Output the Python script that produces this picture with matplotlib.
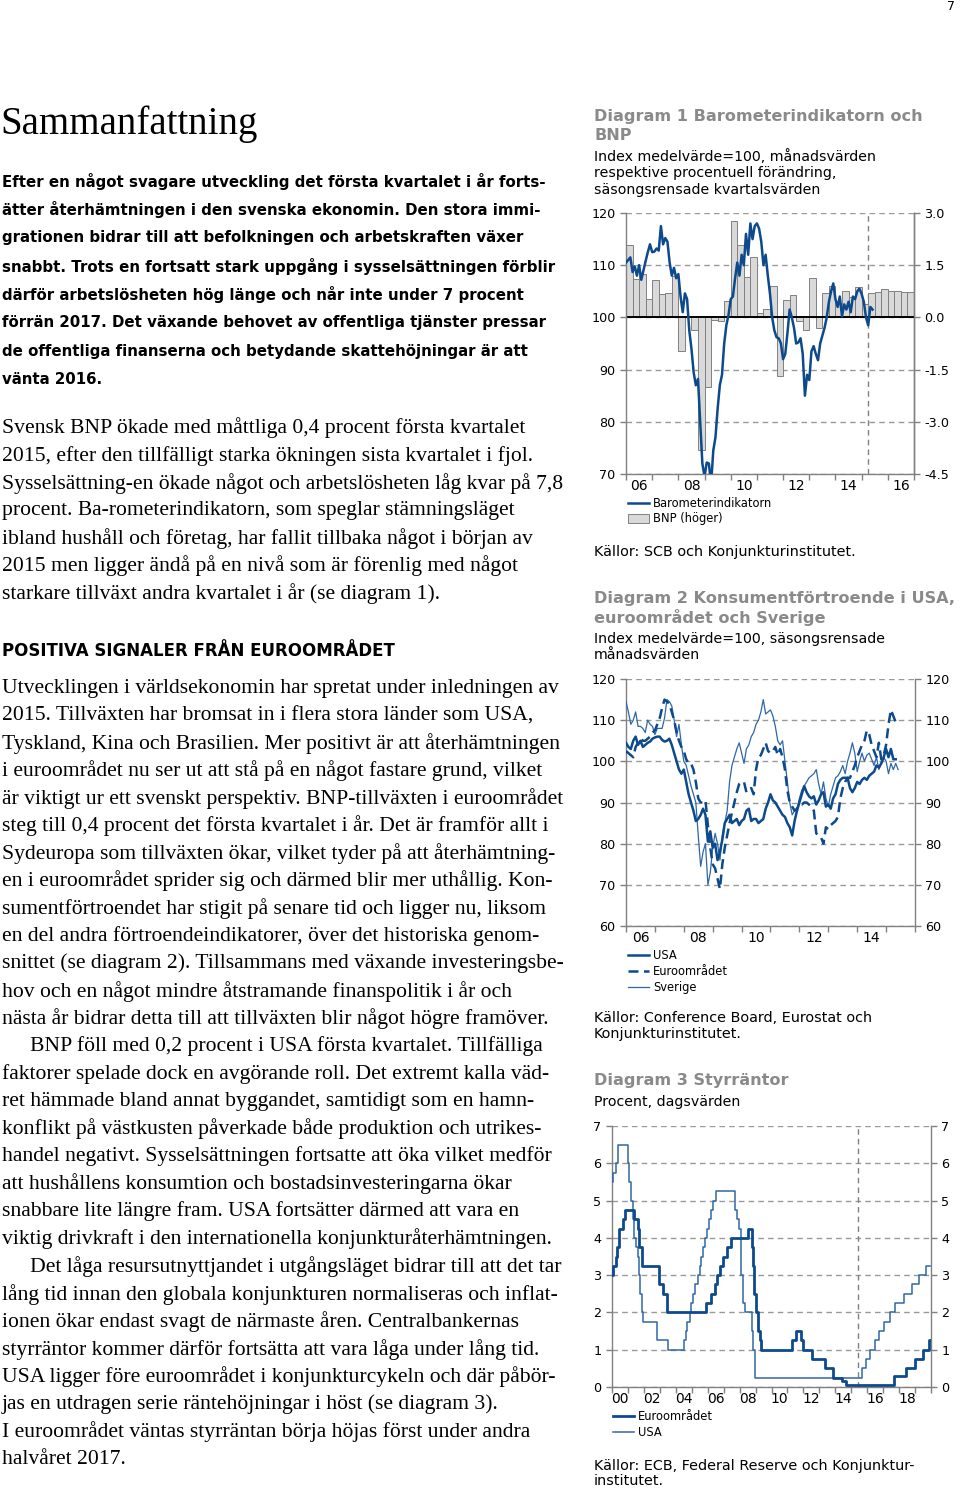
import numpy as np
import matplotlib
matplotlib.use("Agg")
import matplotlib.pyplot as plt
from matplotlib.lines import Line2D
from matplotlib.patches import Patch

W, H = 960, 1489

# ---------------- data ----------------
# Diagram 1: Barometerindikatorn (monthly, from Jan 2006) and BNP (quarterly, 2006Q1-2016Q4)
barometer = [110.5, 111.0, 111.5, 108.7, 109.8, 108.0, 110.0, 107.2, 109.0, 110.8, 112.5, 114.0,
             112.5, 112.6, 113.2, 112.8, 117.5, 114.0, 115.2, 114.5, 110.5, 108.0, 109.5, 107.5,
             108.3, 104.0, 101.0, 104.6, 103.5, 97.5, 94.0, 89.5, 87.0, 88.2, 80.0, 72.0,
             69.5, 72.2, 72.0, 68.0, 74.5, 77.0, 82.5, 87.0, 89.0, 95.0, 98.5, 100.5,
             103.5, 104.0, 107.5, 110.5, 108.0, 112.0, 110.0, 116.0, 112.0, 118.0, 115.0, 117.5,
             118.0, 117.0, 114.5, 110.0, 112.0, 108.0, 104.5, 100.0, 97.5, 96.2, 96.0, 95.0,
             92.0, 93.0, 97.0, 101.5, 100.0, 98.0, 95.0, 95.2, 96.0, 93.0, 85.0, 89.0,
             88.0, 93.5, 94.5, 93.0, 91.8, 95.0, 96.5, 98.0, 100.0, 103.0, 105.0, 106.5,
             103.5, 102.0, 104.0, 100.2, 102.5, 101.5, 103.0, 101.0, 104.0, 103.5, 105.0, 105.5,
             104.5, 103.0, 100.0, 98.5, 102.0, 101.5]
bnp = [2.08, 1.11, 1.26, 0.52, 1.07, 0.66, 0.69, 1.19,
       -0.97, 0.03, -0.36, -3.81, -2.00, -0.08, -0.11, 0.46,
       2.77, 2.08, 1.17, 1.75, 0.13, 0.25, 0.91, -1.67,
       0.51, 0.65, -0.11, -0.36, 1.12, -0.30, 0.69, 0.90,
       0.40, 0.75, 0.59, 0.86, 0.38, 0.69, 0.74, 0.82,
       0.77, 0.75, 0.72, 0.72]

# Diagram 2: consumer confidence, monthly from Jan 2006
usa = [104.5, 103.5, 103.0, 105.0, 106.0, 104.0, 105.0, 103.5, 104.0, 104.5, 104.8, 105.5,
       105.8, 106.0, 106.0, 105.2, 104.8, 105.0, 105.5, 104.0, 102.0, 100.0, 98.0, 97.0,
       98.0, 95.0, 92.0, 90.0, 88.0, 85.5, 86.0, 87.0, 88.5, 87.0, 80.5, 83.0,
       79.0, 80.0, 76.0, 78.0, 81.0, 85.0, 86.0, 87.0, 85.0, 85.5, 86.0, 84.5,
       85.5, 86.0, 88.0, 88.5, 85.5, 86.0, 86.0, 85.0, 85.5, 86.0, 88.5, 90.0,
       92.0, 90.5, 90.0, 89.0, 88.0, 87.0, 86.5, 85.0, 84.0, 82.0, 85.5, 88.0,
       90.0, 92.0, 94.0, 92.5, 91.5, 91.0, 91.5, 89.5, 90.5, 92.0, 92.5, 89.0,
       89.5, 88.5, 91.0, 92.0, 94.5, 95.5, 96.0, 96.0, 96.0, 93.5, 92.5, 93.5,
       95.0, 94.5, 95.5, 96.0, 95.5, 96.5, 97.0, 97.5, 99.0, 98.5, 99.5, 101.0,
       103.0, 101.0, 103.0, 100.5, 100.5]
euro = [102.5, 102.0, 101.5, 101.0, 103.5, 104.5, 105.5, 105.0, 105.0, 105.5, 106.0, 107.0,
        107.5, 109.0, 110.5, 113.0, 115.0, 114.5, 114.0, 112.0, 110.0, 107.0, 105.0, 103.5,
        102.5, 100.5, 99.5, 99.5, 98.0, 95.0, 91.0, 90.0, 90.0, 90.5, 84.5, 79.0,
        75.0, 74.0, 71.5, 69.0, 75.0, 79.0, 82.0, 85.0, 87.5, 90.0, 92.5, 94.5,
        95.0, 95.0, 92.5, 93.0, 93.5, 92.0, 98.0, 101.0, 101.5, 103.0, 104.5, 102.5,
        102.0, 102.5, 103.5, 101.5, 103.0, 101.0, 98.0, 93.0, 90.0, 89.0, 88.0, 88.5,
        89.5, 89.5, 90.0, 90.0, 89.5, 89.0, 88.0, 82.5, 82.0, 81.5, 80.0, 84.0,
        83.5, 84.5, 85.0, 85.5, 86.5, 91.0, 93.5, 95.0, 96.0, 96.0, 97.5, 99.0,
        101.0, 102.5, 104.0, 105.0, 107.5, 106.5, 104.0, 102.5, 101.0, 104.5, 100.5, 101.5,
        104.0, 109.0, 112.5, 111.0, 109.5]
sverige = [114.5, 112.0, 109.0, 110.0, 112.0, 108.5, 108.5, 108.0, 107.0, 110.0, 109.0, 108.5,
           106.5, 108.0, 108.0, 108.0, 110.5, 115.0, 114.5, 113.5, 110.0, 106.0, 109.0, 104.0,
           100.0, 99.0, 96.5, 94.0, 92.0, 90.0, 82.0, 74.5, 78.0, 80.0, 70.0, 73.0,
           79.0, 82.5, 80.0, 76.0, 82.0, 85.0, 88.0, 95.0, 99.0, 101.0, 103.0, 104.5,
           102.0, 99.5, 103.0, 104.0, 106.0, 107.0, 109.0, 110.0, 112.0, 115.0, 111.5, 112.0,
           112.5, 111.0, 108.5, 105.0, 104.0, 105.0, 100.0, 95.0, 90.0, 87.0, 88.0, 88.5,
           91.0, 93.0, 94.0, 95.0, 96.0, 96.5, 97.0, 98.0, 94.5, 92.0, 95.0, 91.0,
           89.0, 92.0, 94.0, 96.0, 96.5, 97.5, 99.0, 97.0, 100.0, 102.0, 104.5, 102.0,
           97.5, 100.0, 102.0, 100.0, 101.5, 102.0, 100.5, 99.0, 101.0, 98.0, 99.5, 101.0,
           100.0, 97.0, 99.5, 98.0, 99.5, 98.0]

# Diagram 3: policy rates (change dates as decimal years, level from that date)
euro_dates = [2000.0, 2000.09, 2000.25, 2000.33, 2000.45, 2000.67, 2000.8, 2001.37, 2001.66,
              2001.72, 2001.87, 2002.93, 2003.18, 2003.43, 2005.92, 2006.18, 2006.45, 2006.6,
              2006.77, 2006.94, 2007.2, 2007.45, 2008.52, 2008.77, 2008.86, 2008.93, 2009.05,
              2009.18, 2009.26, 2009.36, 2011.28, 2011.52, 2011.85, 2011.95, 2012.52, 2013.35,
              2013.85, 2014.43, 2014.7, 2017.7, 2018.45, 2019.0, 2019.5, 2019.9, 2020.0]
euro_rate = [3.0, 3.25, 3.5, 3.75, 4.25, 4.5, 4.75, 4.5, 4.25,
             3.75, 3.25, 2.75, 2.5, 2.0, 2.25, 2.5, 2.75, 3.0,
             3.25, 3.5, 3.75, 4.0, 4.25, 3.75, 3.25, 2.5, 2.0,
             1.5, 1.25, 1.0, 1.25, 1.5, 1.25, 1.0, 0.75, 0.5,
             0.25, 0.15, 0.05, 0.3, 0.5, 0.75, 1.0, 1.25, 1.25]
usa_dates = [2000.0, 2000.09, 2000.22, 2000.38, 2001.0, 2001.08, 2001.22, 2001.3, 2001.38,
             2001.48, 2001.64, 2001.7, 2001.78, 2001.86, 2001.95, 2002.85, 2003.48, 2004.5,
             2004.61, 2004.72, 2004.86, 2004.95, 2005.09, 2005.22, 2005.38, 2005.5, 2005.61,
             2005.72, 2005.86, 2005.95, 2006.08, 2006.22, 2006.36, 2006.49, 2007.72, 2007.83,
             2007.95, 2008.06, 2008.08, 2008.22, 2008.33, 2008.77, 2008.83, 2008.96, 2015.67,
             2015.95, 2016.2, 2016.5, 2016.72, 2017.03, 2017.45, 2017.76, 2018.29, 2018.8,
             2019.23, 2019.7, 2019.95]
usa_rate = [5.5, 5.75, 6.0, 6.5, 6.0, 5.5, 5.0, 4.5, 4.0,
            3.75, 3.5, 3.0, 2.5, 2.0, 1.75, 1.25, 1.0, 1.25,
            1.5, 1.75, 2.0, 2.25, 2.5, 2.75, 3.0, 3.25, 3.5,
            3.75, 4.0, 4.25, 4.5, 4.75, 5.0, 5.25, 4.75, 4.5,
            4.25, 3.5, 3.0, 2.25, 2.0, 1.5, 1.0, 0.25, 0.5,
            0.75, 1.0, 1.25, 1.5, 1.75, 2.0, 2.25, 2.5, 2.75,
            3.0, 3.25, 3.25]

# ---------------- text ----------------
lead = ["Efter en något svagare utveckling det första kvartalet i år forts-",
        "ätter återhämtningen i den svenska ekonomin. Den stora immi-",
        "grationen bidrar till att befolkningen och arbetskraften växer",
        "snabbt. Trots en fortsatt stark uppgång i sysselsättningen förblir",
        "därför arbetslösheten hög länge och når inte under 7 procent",
        "förrän 2017. Det växande behovet av offentliga tjänster pressar",
        "de offentliga finanserna och betydande skattehöjningar är att",
        "vänta 2016."]
body1 = ["Svensk BNP ökade med måttliga 0,4 procent första kvartalet",
         "2015, efter den tillfälligt starka ökningen sista kvartalet i fjol.",
         "Sysselsättning-en ökade något och arbetslösheten låg kvar på 7,8",
         "procent. Ba-rometerindikatorn, som speglar stämningsläget",
         "ibland hushåll och företag, har fallit tillbaka något i början av",
         "2015 men ligger ändå på en nivå som är förenlig med något",
         "starkare tillväxt andra kvartalet i år (se diagram 1)."]
body2 = ["Utvecklingen i världsekonomin har spretat under inledningen av",
         "2015. Tillväxten har bromsat in i flera stora länder som USA,",
         "Tyskland, Kina och Brasilien. Mer positivt är att återhämtningen",
         "i euroområdet nu ser ut att stå på en något fastare grund, vilket",
         "är viktigt ur ett svenskt perspektiv. BNP-tillväxten i euroområdet",
         "steg till 0,4 procent det första kvartalet i år. Det är framför allt i",
         "Sydeuropa som tillväxten ökar, vilket tyder på att återhämtning-",
         "en i euroområdet sprider sig och därmed blir mer uthållig. Kon-",
         "sumentförtroendet har stigit på senare tid och ligger nu, liksom",
         "en del andra förtroendeindikatorer, över det historiska genom-",
         "snittet (se diagram 2). Tillsammans med växande investeringsbe-",
         "hov och en något mindre åtstramande finanspolitik i år och",
         "nästa år bidrar detta till att tillväxten blir något högre framöver.",
         "\tBNP föll med 0,2 procent i USA första kvartalet. Tillfälliga",
         "faktorer spelade dock en avgörande roll. Det extremt kalla väd-",
         "ret hämmade bland annat byggandet, samtidigt som en hamn-",
         "konflikt på västkusten påverkade både produktion och utrikes-",
         "handel negativt. Sysselsättningen fortsatte att öka vilket medför",
         "att hushållens konsumtion och bostadsinvesteringarna ökar",
         "snabbare lite längre fram. USA fortsätter därmed att vara en",
         "viktig drivkraft i den internationella konjunkturåterhämtningen.",
         "\tDet låga resursutnyttjandet i utgångsläget bidrar till att det tar",
         "lång tid innan den globala konjunkturen normaliseras och inflat-",
         "ionen ökar endast svagt de närmaste åren. Centralbankernas",
         "styrräntor kommer därför fortsätta att vara låga under lång tid.",
         "USA ligger före euroområdet i konjunkturcykeln och där påbör-",
         "jas en utdragen serie räntehöjningar i höst (se diagram 3).",
         "I euroområdet väntas styrräntan börja höjas först under andra",
         "halvåret 2017."]

BLUE = "#0d4a8c"
BLUE2 = "#2f67a6"
GREY = "#8a8a8a"
AX = "#808080"

TITLE_FS = 11.6
SUB_FS = 10.2
SRC_FS = 10.4
LEG_FS = 8.3

fig = plt.figure(figsize=(W / 100, H / 100), dpi=100)
fig.patch.set_facecolor("white")


def ftext(x, y, s, **kw):
    kw.setdefault("va", "center")
    fig.text(x / W, 1 - y / H, s, **kw)


def px_axes(x0, y0, x1, y1):
    return fig.add_axes([x0 / W, 1 - y1 / H, (x1 - x0) / W, (y1 - y0) / H])


def style(ax):
    for side in ["left", "right", "bottom"]:
        ax.spines[side].set_color(AX)
        ax.spines[side].set_linewidth(1.0)
    ax.spines["top"].set_visible(False)
    ax.tick_params(axis="both", colors=AX, labelcolor="black", labelsize=9.2,
                   length=4, width=1.0, direction="out")


# ---------------- left column ----------------
ftext(0, 124, "Sammanfattning", family="Liberation Serif", fontsize=28)
for i, line in enumerate(lead):
    ftext(2, 181 + i * 28.4, line, fontsize=10.8, fontweight="bold")

serif = dict(family="Liberation Serif", fontsize=15.6)
for i, line in enumerate(body1):
    ftext(2, 428 + i * 27.6, line, **serif)
ftext(2, 651, "POSITIVA SIGNALER FRÅN EUROOMRÅDET", fontsize=12, fontweight="bold")
for i, line in enumerate(body2):
    x = 2
    if line.startswith("\t"):
        line = line[1:]
        x = 30
    ftext(x, 688 + i * 27.55, line, **serif)

ftext(955, 6, "7", fontsize=9, ha="right")

# ---------------- Diagram 1 ----------------
ftext(594, 117, "Diagram 1 Barometerindikatorn och", fontsize=TITLE_FS, fontweight="bold", color=GREY)
ftext(594, 136, "BNP", fontsize=TITLE_FS, fontweight="bold", color=GREY)
for i, s in enumerate(["Index medelvärde=100, månadsvärden",
                       "respektive procentuell förändring,",
                       "säsongsrensade kvartalsvärden"]):
    ftext(594, 157 + i * 16.3, s, fontsize=SUB_FS)

ax1 = px_axes(626, 213, 914, 474)
ax1b = ax1.twinx()
qx = 2006 + 0.25 * np.arange(len(bnp))
ax1b.set_axisbelow(True)
ax1b.bar(qx, bnp, width=0.25, align="edge", color="#d9d9d9", edgecolor="#808080", lw=0.7, zorder=2)
ax1b.axhline(0, color="black", lw=1.4, zorder=3)
ax1b.axvline(2015.25, color=AX, lw=1.0, ls=(0, (4, 3)), zorder=1)
ax1b.set_ylim(-4.5, 3.0)
ax1b.set_yticks(np.arange(-4.5, 3.01, 1.5))
ax1b.set_yticklabels(["-4.5", "-3.0", "-1.5", "0.0", "1.5", "3.0"])
ax1b.grid(axis="y", color="#999999", ls=(0, (4, 3)), lw=1.0, zorder=0)
mx = 2006 + np.arange(len(barometer)) / 12
ax1.plot(mx, barometer, color=BLUE, lw=1.8, zorder=5)
ax1.set_ylim(70, 120)
ax1.set_yticks(range(70, 121, 10))
ax1.set_xlim(2006, 2017)
ax1.set_zorder(ax1b.get_zorder() + 1)
ax1.patch.set_visible(False)
ax1.set_xticks(range(2006, 2018))
ax1.set_xticklabels([])
ax1.set_xticks(np.arange(2006.5, 2017, 2), minor=True)
ax1.set_xticklabels(["06", "08", "10", "12", "14", "16"], minor=True)
style(ax1)
style(ax1b)
ax1.tick_params(axis="x", which="minor", length=0)
ax1b.spines["left"].set_visible(False)
ax1b.spines["bottom"].set_visible(False)

fig.legend([Line2D([], [], color=BLUE, lw=1.8),
            Patch(facecolor="#d9d9d9", edgecolor="#808080", lw=0.7)],
           ["Barometerindikatorn", "BNP (höger)"],
           loc="upper left", bbox_to_anchor=(628 / W, 1 - 497 / H), frameon=False,
           fontsize=LEG_FS, handlelength=1.8, handleheight=0.8, handletextpad=0.35,
           labelspacing=0.2, borderpad=0, borderaxespad=0)
ftext(594, 552, "Källor: SCB och Konjunkturinstitutet.", fontsize=SRC_FS)

# ---------------- Diagram 2 ----------------
ftext(594, 599, "Diagram 2 Konsumentförtroende i USA,", fontsize=TITLE_FS, fontweight="bold", color=GREY)
ftext(594, 617, "euroområdet och Sverige", fontsize=TITLE_FS, fontweight="bold", color=GREY)
ftext(594, 639, "Index medelvärde=100, säsongsrensade", fontsize=SUB_FS)
ftext(594, 655, "månadsvärden", fontsize=SUB_FS)

ax2 = px_axes(626, 679, 915, 926)
m2 = 2006 + np.arange(len(sverige)) / 12
ax2.plot(m2, sverige, color=BLUE2, lw=0.9, zorder=3)
ax2.plot(m2[:len(euro)], euro, color=BLUE, lw=1.8, ls=(0, (4, 2.2)), zorder=4)
ax2.plot(m2[:len(usa)], usa, color=BLUE, lw=1.8, zorder=5)
ax2.set_ylim(60, 120)
ax2.set_yticks(range(60, 121, 10))
ax2.set_xlim(2006, 2016)
ax2.grid(axis="y", color="#999999", ls=(0, (4, 3)), lw=1.0, zorder=0)
ax2.set_axisbelow(True)
ax2.set_xticks(range(2006, 2017))
ax2.set_xticklabels([])
ax2.set_xticks(np.arange(2006.5, 2015, 2), minor=True)
ax2.set_xticklabels(["06", "08", "10", "12", "14"], minor=True)
style(ax2)
ax2.tick_params(axis="x", which="minor", length=0)
ax2.tick_params(axis="y", right=True, labelright=True)

fig.legend([Line2D([], [], color=BLUE, lw=1.8),
            Line2D([], [], color=BLUE, lw=1.8, ls=(0, (4, 2.2))),
            Line2D([], [], color=BLUE2, lw=0.9)],
           ["USA", "Euroområdet", "Sverige"],
           loc="upper left", bbox_to_anchor=(628 / W, 1 - 949 / H), frameon=False,
           fontsize=LEG_FS, handlelength=1.8, handletextpad=0.35,
           labelspacing=0.27, borderpad=0, borderaxespad=0)
ftext(594, 1018, "Källor: Conference Board, Eurostat och", fontsize=SRC_FS)
ftext(594, 1034, "Konjunkturinstitutet.", fontsize=SRC_FS)

# ---------------- Diagram 3 ----------------
ftext(594, 1080, "Diagram 3 Styrräntor", fontsize=TITLE_FS, fontweight="bold", color=GREY)
ftext(594, 1102, "Procent, dagsvärden", fontsize=SUB_FS)

ax3 = px_axes(612, 1126, 931, 1387)
ax3.plot(usa_dates, usa_rate, drawstyle="steps-post", color=BLUE2, lw=1.1, zorder=3)
ax3.plot(euro_dates, euro_rate, drawstyle="steps-post", color=BLUE, lw=2.0, zorder=4)
ax3.axvline(2015.42, color=AX, lw=1.0, ls=(0, (4, 3)), zorder=1)
ax3.set_ylim(0, 7)
ax3.set_yticks(range(0, 8))
ax3.set_xlim(2000, 2020)
ax3.grid(axis="y", color="#999999", ls=(0, (4, 3)), lw=1.0, zorder=0)
ax3.set_axisbelow(True)
ax3.set_xticks(range(2000, 2021))
ax3.set_xticklabels([])
ax3.set_xticks(np.arange(2000.5, 2020, 2), minor=True)
ax3.set_xticklabels(["00", "02", "04", "06", "08", "10", "12", "14", "16", "18"], minor=True)
style(ax3)
ax3.tick_params(axis="x", which="minor", length=0)
ax3.tick_params(axis="y", right=True, labelright=True)

fig.legend([Line2D([], [], color=BLUE, lw=2.0),
            Line2D([], [], color=BLUE2, lw=1.1)],
           ["Euroområdet", "USA"],
           loc="upper left", bbox_to_anchor=(613 / W, 1 - 1410 / H), frameon=False,
           fontsize=LEG_FS, handlelength=1.8, handletextpad=0.35,
           labelspacing=0.27, borderpad=0, borderaxespad=0)
ftext(594, 1466, "Källor: ECB, Federal Reserve och Konjunktur-", fontsize=SRC_FS)
ftext(594, 1481, "institutet.", fontsize=SRC_FS)

fig.savefig("out.png", dpi=100)
